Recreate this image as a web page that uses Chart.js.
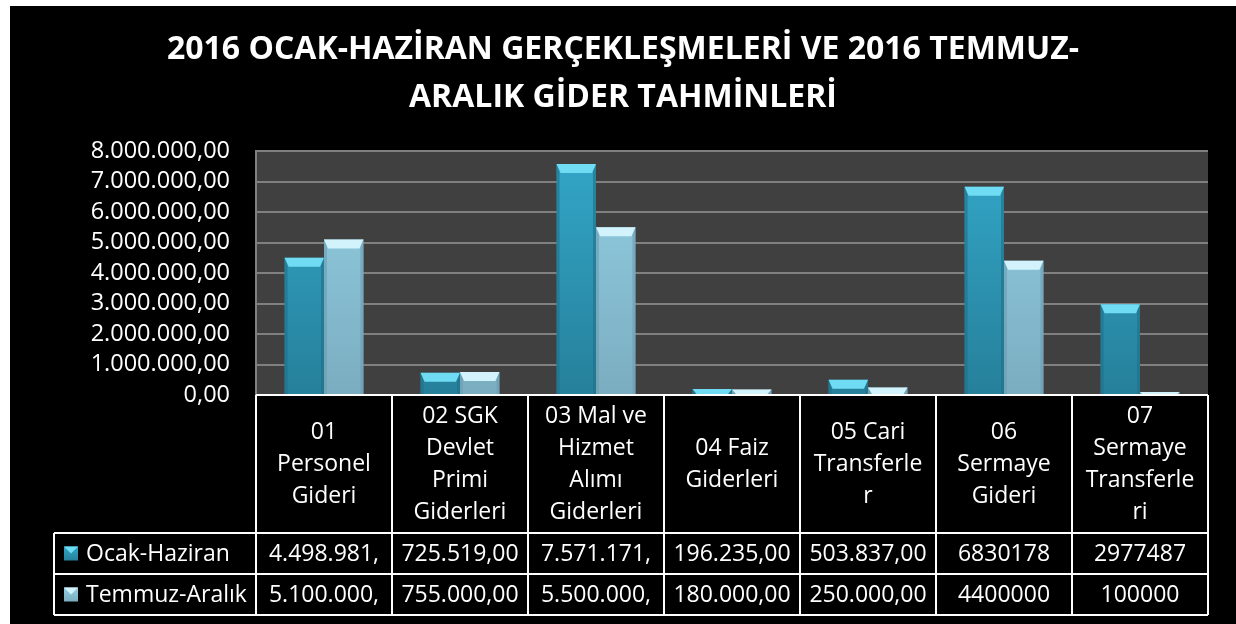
<!DOCTYPE html>
<html>
<head>
<meta charset="utf-8">
<script src="https://cdn.jsdelivr.net/npm/chart.js@4.4.1/dist/chart.umd.min.js"></script>
<style>
  body { margin: 0; background: #fff; }
  #wrap { position: absolute; left: 10px; top: 6px; width: 1226px; height: 618px; background: #000; }
</style>
</head>
<body>
<div id="wrap"><canvas id="giderChart"></canvas></div>
<script>
// Categories (wrapped the way the table header shows them)
const categories = [
  ['01', 'Personel', 'Gideri'],
  ['02 SGK', 'Devlet', 'Primi', 'Giderleri'],
  ['03 Mal ve', 'Hizmet', 'Alımı', 'Giderleri'],
  ['04 Faiz', 'Giderleri'],
  ['05 Cari', 'Transferle', 'r'],
  ['06', 'Sermaye', 'Gideri'],
  ['07', 'Sermaye', 'Transferle', 'ri']
];

// Series
const seriesNames = ['Ocak-Haziran', 'Temmuz-Aralık'];
const ocakHaziran = [4498981, 725519, 7571171, 196235, 503837, 6830178, 2977487];
const temmuzAralik = [5100000, 755000, 5500000, 180000, 250000, 4400000, 100000];

// Table cell texts, as printed (cut off) in the table
const ocakHaziranText = ['4.498.981,', '725.519,00', '7.571.171,', '196.235,00', '503.837,00', '6830178', '2977487'];
const temmuzAralikText = ['5.100.000,', '755.000,00', '5.500.000,', '180.000,00', '250.000,00', '4400000', '100000'];

// Y axis
const yMin = 0;
const yMax = 8000000;
const yStep = 1000000;

const title = ['2016 OCAK-HAZİRAN GERÇEKLEŞMELERİ VE 2016 TEMMUZ-', 'ARALIK GİDER TAHMİNLERİ'];

const fontFamily = "'Open Sans', sans-serif";
const colors = [
  { top: '#33a7c8', bottom: '#26809b', bevel: '#6fdcf3', side: '#1f6f88' },
  { top: '#93cfe4', bottom: '#7badc0', bevel: '#d2f3fb', side: '#6a9cb0' }
];

// Turkish number format: 8.000.000,00
function trFormat(v) {
  const parts = Math.abs(v).toFixed(2).split('.');
  parts[0] = parts[0].replace(/\B(?=(\d{3})+(?!\d))/g, '.');
  return parts.join(',');
}

function barGradient(ctx, i) {
  const chart = ctx.chart;
  const area = chart.chartArea;
  if (!area) return colors[i].top;
  const g = chart.ctx.createLinearGradient(0, area.top, 0, area.bottom);
  g.addColorStop(0, colors[i].top);
  g.addColorStop(1, colors[i].bottom);
  return g;
}

// plot background
const plotBg = {
  id: 'plotBg',
  beforeDraw(chart) {
    const { ctx, chartArea: a } = chart;
    ctx.save();
    ctx.fillStyle = '#404040';
    ctx.fillRect(a.left, a.top, a.width, a.height);
    ctx.restore();
  }
};

// bevel on top of each bar
const bevel = {
  id: 'bevel',
  afterDatasetsDraw(chart) {
    const ctx = chart.ctx;
    chart.data.datasets.forEach((ds, di) => {
      chart.getDatasetMeta(di).data.forEach(el => {
        const l = el.x - el.width / 2, r = el.x + el.width / 2;
        const h = el.base - el.y;
        const b = Math.min(9, h);
        ctx.save();
        ctx.fillStyle = colors[di].side;
        ctx.globalAlpha = 0.6;
        ctx.fillRect(l, el.y, 3, h);
        ctx.fillRect(r - 3, el.y, 3, h);
        ctx.globalAlpha = 1;
        ctx.fillStyle = colors[di].bevel;
        ctx.beginPath();
        ctx.moveTo(l, el.y);
        ctx.lineTo(r, el.y);
        ctx.lineTo(r - Math.min(4, b), el.y + b);
        ctx.lineTo(l + Math.min(4, b), el.y + b);
        ctx.closePath();
        ctx.fill();
        ctx.restore();
      });
    });
  }
};

function drawKey(ctx, x, y, s, i) {
  const g = ctx.createLinearGradient(0, y, 0, y + s);
  g.addColorStop(0, colors[i].top);
  g.addColorStop(1, colors[i].bottom);
  ctx.fillStyle = g;
  ctx.fillRect(x, y, s, s);
  ctx.fillStyle = colors[i].bevel;
  ctx.beginPath();
  ctx.moveTo(x, y);
  ctx.lineTo(x + s, y);
  ctx.lineTo(x + s / 2, y + s / 2);
  ctx.closePath();
  ctx.fill();
}

// data table under the plot
const dataTable = {
  id: 'dataTable',
  afterDraw(chart) {
    const { ctx, chartArea: a } = chart;
    const xs = chart.scales.x;
    const n = categories.length;
    const w = a.width / n;
    const headH = 138, rowH = 41;
    const y0 = a.bottom, y1 = y0 + headH, y2 = y1 + rowH, y3 = y2 + rowH;
    const legLeft = 44;
    ctx.save();
    ctx.strokeStyle = '#ffffff';
    ctx.lineWidth = 2;
    ctx.beginPath();
    ctx.moveTo(a.left, y0); ctx.lineTo(a.right, y0);
    [y1, y2, y3].forEach(y => { ctx.moveTo(legLeft, y); ctx.lineTo(a.right, y); });
    ctx.moveTo(legLeft, y1); ctx.lineTo(legLeft, y3);
    for (let i = 0; i <= n; i++) {
      const x = i < n ? xs.getPixelForValue(i) - w / 2 : a.right;
      ctx.moveTo(x, y0); ctx.lineTo(x, y3);
    }
    ctx.stroke();

    ctx.fillStyle = '#ffffff';
    ctx.font = '23px ' + fontFamily;
    ctx.textAlign = 'center';
    ctx.textBaseline = 'middle';
    const lh = 32;
    categories.forEach((lines, i) => {
      const cx = xs.getPixelForValue(i);
      const start = y0 + headH / 2 - (lines.length - 1) * lh / 2;
      lines.forEach((t, k) => ctx.fillText(t, cx, start + k * lh));
      ctx.fillText(ocakHaziranText[i], cx, y1 + rowH / 2 + 1);
      ctx.fillText(temmuzAralikText[i], cx, y2 + rowH / 2 + 1);
    });

    ctx.textAlign = 'left';
    [y1, y2].forEach((y, i) => {
      drawKey(ctx, legLeft + 10, y + rowH / 2 - 7, 14, i);
      ctx.fillStyle = '#ffffff';
      ctx.fillText(seriesNames[i], legLeft + 32, y + rowH / 2 + 1);
    });
    ctx.restore();
  }
};

Chart.defaults.font.family = fontFamily;

const giderChart = new Chart(document.getElementById('giderChart'), {
  type: 'bar',
  data: {
    labels: categories,
    datasets: [
      { label: seriesNames[0], data: ocakHaziran, backgroundColor: c => barGradient(c, 0) },
      { label: seriesNames[1], data: temmuzAralik, backgroundColor: c => barGradient(c, 1) }
    ]
  },
  options: {
    responsive: true,
    maintainAspectRatio: false,
    animation: false,
    categoryPercentage: 0.58,
    barPercentage: 1.0,
    layout: { padding: { left: 0, right: 0, top: 0, bottom: 229 } },
    plugins: {
      legend: { display: false },
      tooltip: { enabled: false },
      title: {
        display: true,
        text: title,
        color: '#ffffff',
        font: { size: 32, weight: 'bold', lineHeight: 48 / 32 },
        padding: { top: 20, bottom: 29 }
      }
    },
    scales: {
      x: { display: false },
      y: {
        min: yMin,
        max: yMax,
        afterFit(scale) { scale.width = 246; },
        ticks: {
          stepSize: yStep,
          autoSkip: false,
          color: '#ffffff',
          font: { size: 23.5 },
          padding: 26,
          callback: v => trFormat(v)
        },
        grid: { color: '#808080', lineWidth: 2, drawTicks: false },
        border: { color: '#808080', width: 2 }
      },
      // empty strip on the right so the title stays centred on the page
      yRight: {
        position: 'right',
        afterFit(scale) { scale.width = 28; },
        ticks: { display: false },
        grid: { display: false },
        border: { display: false }
      }
    }
  },
  plugins: [plotBg, bevel, dataTable]
});
</script>
</body>
</html>
